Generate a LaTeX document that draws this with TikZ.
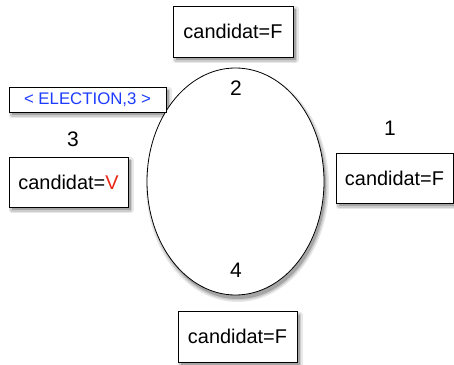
\documentclass[tikz,border=0pt]{standalone}
\usepackage{fontspec}
\setmainfont{Liberation Sans}
\usetikzlibrary{shapes.geometric}
\definecolor{elecblue}{RGB}{30,60,255}
\definecolor{vred}{RGB}{235,40,20}
\definecolor{shA}{RGB}{232,232,232}
\definecolor{shB}{RGB}{205,205,205}
\definecolor{shC}{RGB}{165,165,165}
\tikzset{
  procbox/.style={draw=black, line width=0.8pt, fill=white, inner sep=0pt,
    minimum width=#1, font=\fontsize{19.9}{22}\selectfont},
  lbl/.style={font=\fontsize{21}{24}\selectfont, inner sep=0pt},
  ring/.style={draw=black, line width=0.8pt, fill=white}
}
\newcommand\mkshadow[4]{%
  \filldraw[draw=shA, fill=shA, line width=6pt, line join=round] (#1+2.5,#2-3.5) rectangle (#3+2.5,#4-3.5);
  \filldraw[draw=shB, fill=shB, line width=3pt, line join=round] (#1+2.5,#2-3.5) rectangle (#3+2.5,#4-3.5);
  \fill[shC] (#1+2.5,#2-3.5) rectangle (#3+2.5,#4-3.5);}
\begin{document}
\begin{tikzpicture}[x=1pt,y=1pt]
\useasboundingbox (0,0) rectangle (454,364);
% shadows (drawn first, behind the shapes)
\filldraw[draw=shA, fill=shA, line width=6pt] (237.5,178.5) ellipse [x radius=88.5, y radius=113.5];
\filldraw[draw=shB, fill=shB, line width=3pt] (237.5,178.5) ellipse [x radius=88.5, y radius=113.5];
\fill[shC] (237.5,178.5) ellipse [x radius=88.5, y radius=113.5];
\mkshadow{173}{307}{293}{358}
\mkshadow{336}{161}{453}{211}
\mkshadow{9}{157}{128}{207}
\mkshadow{178}{2}{297}{53}
\mkshadow{9}{252}{166}{277}
% shapes
\node[ring, ellipse, minimum width=177pt, minimum height=227pt, inner sep=0pt] (ring) at (235.5,182.5) {};
\node[procbox=120pt, minimum height=51pt] (top) at (233,332.5) {candidat=F};
\node[procbox=117pt, minimum height=50pt] (right) at (394.5,186) {candidat=F};
\node[procbox=119pt, minimum height=50pt] (left) at (68.5,182) {candidat=\textcolor{vred}{V}};
\node[procbox=119pt, minimum height=51pt] (bottom) at (237.5,27.5) {candidat=F};
\node[draw=black, line width=0.8pt, fill=white, inner sep=0pt, minimum width=157pt, minimum height=25pt,
  font=\fontsize{16.8}{19}\selectfont, text=elecblue]
  (msg) at (87.5,264.5) {< ELECTION,3 >};
\node[lbl] (n2) at (236,276) {2};
\node[lbl] (n1) at (390,236) {1};
\node[lbl] (n3) at (73,225) {3};
\node[lbl] (n4) at (236,94) {4};
\end{tikzpicture}
\end{document}
